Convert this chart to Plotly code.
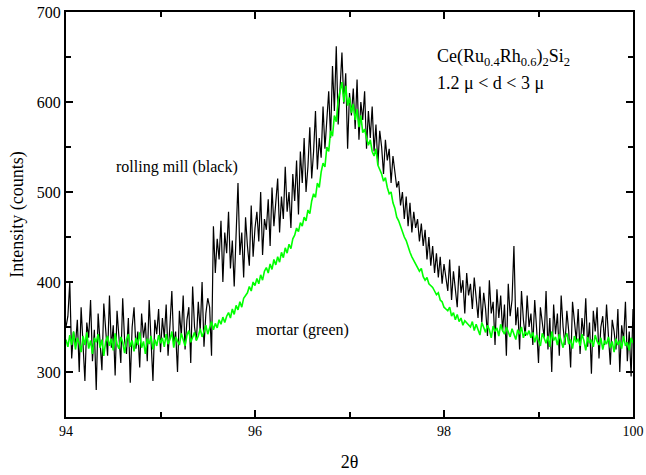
import numpy as np
import plotly.graph_objects as go

# rolling mill (black), 2theta from 94 to 100 in 0.02 steps
black_counts = [
    350, 362, 400, 315, 345, 330, 358, 300, 372, 325,
    290, 355, 338, 380, 312, 347, 280, 365, 333, 302,
    376, 340, 318, 385, 327, 352, 296, 368, 341, 310,
    382, 335, 320, 360, 288, 350, 372, 326, 345, 305,
    365, 338, 355, 312, 380, 330, 290, 358, 342, 370,
    322,
    360, 338, 375, 318, 352, 390, 330, 345, 300, 368,
    340, 385, 325, 358, 372, 310, 395, 350, 335, 378,
    345, 400, 328, 365, 382,
    372, 318, 462, 410, 448,
    425, 468, 400, 455, 432, 478, 415, 446, 395, 462,
    510, 430, 455, 405, 472, 440, 418, 485, 428, 460,
    478, 445, 500, 430, 470, 458, 492, 440, 505, 462,
    485, 515, 455, 495, 470, 528, 478, 500, 460, 520,
    490, 535, 475, 545, 510, 560, 500, 528, 572, 515,
    545, 590, 525, 560, 538, 595, 548,
    580, 612, 560, 640, 590, 662, 575, 620, 655, 598,
    632, 548, 610,
    585, 615, 570, 625, 558, 600, 580, 612, 548, 590,
    560, 595, 545, 575, 530, 568, 550, 520, 558, 535,
    548, 510, 540, 525, 505,
    512, 485, 500, 470, 495, 462, 488, 455, 478, 460,
    470, 445, 465,
    440, 458, 425, 450, 418, 440, 410, 432, 405, 428, 398, 420,
    405, 390, 425, 380, 412, 395, 372, 418, 388, 402,
    365, 410, 385, 398, 370, 405, 380, 360,
    395, 355, 388, 370, 340, 402, 365, 378, 330, 392,
    360, 385, 345, 375, 318, 398, 362, 380, 440, 352,
    372, 325, 390, 358, 340, 385, 350,
    365, 330, 380, 348, 310, 372, 355, 338, 390, 325,
    360, 300, 375, 342, 365, 318, 385, 350, 330, 368,
    345, 305, 378, 352, 335, 370, 320, 360, 340, 382,
    328, 355, 298, 368, 345, 372, 315, 350, 362, 330,
    375, 340, 308, 358, 345, 325, 370, 300, 352, 335,
    378, 312, 345, 295, 370,
]

# mortar (green), 2theta from 94 to 100 in 0.02 steps
green_counts = [
    336, 328, 341, 330, 345, 325, 338, 332, 322, 340,
    330, 344, 326, 335, 320, 338, 333, 342, 327, 336,
    318, 334, 340, 329, 337, 324, 343, 331, 326, 339,
    333, 321, 336, 342, 328, 335, 323, 338, 330, 344,
    327, 334, 320, 337, 331, 340, 325, 336, 329, 341,
    332,
    338, 328, 342, 331, 336, 345, 327, 339, 334, 330,
    343, 336, 329, 341, 346, 333, 338, 344, 335, 340,
    348, 339, 345, 352, 342, 350, 356, 347, 354, 349, 358, 353, 361, 355, 362,
    366, 360, 370, 364, 374, 369, 378, 372, 382, 385,
    388, 395, 390, 400, 396, 404, 398, 408, 402, 412,
    416, 410, 420, 414, 425, 419, 428, 422, 433, 427, 438, 432, 442, 437, 448,
    452, 460, 456, 466, 462, 472, 468, 480, 476, 490,
    498, 494, 510, 505, 522, 532, 528, 550,
    545, 568, 562, 585, 578, 602, 612, 622,
    600, 618, 596, 605,
    588, 598, 580, 592, 572, 585, 566, 570,
    560, 552, 558, 545, 540, 548, 530,
    525, 520, 512, 516, 505, 498, 500, 488, 482, 472,
    468, 462, 455, 450, 446, 438, 433, 428, 424,
    420, 416, 412, 415, 406, 402, 405, 398, 396, 394,
    390, 386, 388, 380, 378, 372,
    370, 368, 372, 362, 366, 358, 364, 356, 360, 352, 357, 355, 353,
    350, 356, 346, 353, 348, 341, 355, 349, 344, 352,
    347, 338, 351, 345, 349, 340, 353, 346, 342, 350,
    344, 339, 348, 343, 336, 347, 342, 350, 338, 345,
    341, 346,
    338, 344, 333, 341, 336, 329, 343, 337, 332, 340,
    328, 345, 335, 339, 330, 342, 334, 327, 338, 343,
    331, 336, 326, 340, 333, 337, 329, 342, 335, 324,
    339, 332, 336, 328, 341, 334, 330, 338, 325, 335,
    331, 339, 327, 334, 322, 337, 330, 335, 326, 340,
    329, 333, 324, 338, 332,
]

x_black = np.linspace(94, 100, len(black_counts))
x_green = np.linspace(94, 100, len(green_counts))

x_tickvals = [94, 96, 98, 100]
y_tickvals = [300, 400, 500, 600, 700]

FONT = "Liberation Serif"

fig = go.Figure()
fig.add_trace(go.Scatter(x=x_black, y=black_counts, mode="lines",
                         line=dict(color="black", width=1.2), name="rolling mill"))
fig.add_trace(go.Scatter(x=x_green, y=green_counts, mode="lines",
                         line=dict(color="#00ff00", width=1.6), name="mortar"))

axis_common = dict(showline=True, linecolor="black", linewidth=2, mirror="ticks",
                   ticks="inside", tickwidth=1.5, ticklen=7, tickcolor="black",
                   showgrid=False, zeroline=False, automargin=False)

fig.update_xaxes(range=[94, 100], tickvals=x_tickvals,
                 minor=dict(dtick=1, tick0=94, ticks="inside", ticklen=5, tickwidth=1.5, tickcolor="black"),
                 tickfont=dict(family=FONT, size=14, color="black"),
                 title=dict(text="2θ", font=dict(family=FONT, size=18, color="black"), standoff=18),
                 **axis_common)
fig.update_yaxes(range=[250, 700], tickvals=y_tickvals,
                 minor=dict(dtick=50, tick0=250, ticks="inside", ticklen=5, tickwidth=1.5, tickcolor="black"),
                 tickfont=dict(family=FONT, size=16, color="black"),
                 title=dict(text="Intensity (counts)", font=dict(family=FONT, size=18, color="black"), standoff=8),
                 **axis_common)

ann_font = dict(family=FONT, size=16, color="black")
fig.add_annotation(x=95.17, y=528, text="rolling mill (black)", showarrow=False, font=ann_font)
fig.add_annotation(x=96.5, y=347, text="mortar (green)", showarrow=False, font=ann_font)
fig.add_annotation(x=97.9, y=649, xanchor="left",
                   text="Ce(Ru<sub>0.4</sub>Rh<sub>0.6</sub>)<sub>2</sub>Si<sub>2</sub>",
                   showarrow=False, font=dict(family=FONT, size=18, color="black"))
fig.add_annotation(x=97.9, y=621, xanchor="left",
                   text="1.2 μ &lt; d &lt; 3 μ",
                   showarrow=False, font=dict(family=FONT, size=18, color="black"))

fig.update_layout(width=646, height=475, margin=dict(l=66, r=13, t=12, b=58),
                  paper_bgcolor="white", plot_bgcolor="white", showlegend=False,
                  font=dict(family=FONT, color="black"))

fig.write_html("out.html", config={"displayModeBar": False},
               post_script="document.body.style.margin='0';")
